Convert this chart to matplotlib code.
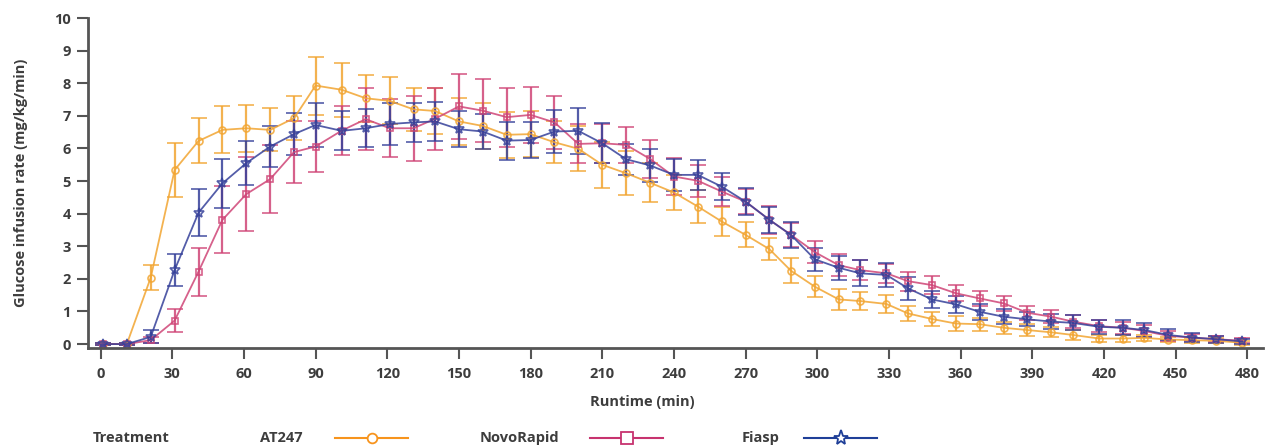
import matplotlib
matplotlib.use("Agg")
import matplotlib.pyplot as plt
from matplotlib.lines import Line2D

# ---- data ----
times = [1, 11, 21, 31, 41, 51, 61, 71, 81, 90,
         101, 111, 121, 131, 140, 150, 160, 170, 180, 190,
         200, 210, 220, 230, 240, 250, 260, 270, 280, 289,
         299, 309, 318, 329, 338, 348, 358, 368, 378, 388,
         398, 407, 418, 428, 437, 447, 457, 467, 478]

at247 = [0, 0, 2.04, 5.34, 6.23, 6.57, 6.62, 6.57, 6.93, 7.93,
         7.80, 7.54, 7.46, 7.20, 7.15, 6.83, 6.69, 6.42, 6.44, 6.19,
         5.99, 5.50, 5.24, 4.95, 4.65, 4.22, 3.76, 3.35, 2.91, 2.25,
         1.76, 1.37, 1.32, 1.23, 0.94, 0.77, 0.63, 0.61, 0.50, 0.43,
         0.36, 0.28, 0.17, 0.17, 0.19, 0.14, 0.12, 0.10, 0.04]
at247_err = [0.03, 0.03, 0.38, 0.84, 0.69, 0.72, 0.72, 0.66, 0.68, 0.89,
             0.83, 0.72, 0.72, 0.66, 0.72, 0.72, 0.70, 0.70, 0.70, 0.64,
             0.69, 0.70, 0.67, 0.60, 0.54, 0.51, 0.45, 0.38, 0.34, 0.38,
             0.32, 0.32, 0.29, 0.28, 0.23, 0.22, 0.23, 0.20, 0.18, 0.19,
             0.15, 0.15, 0.11, 0.10, 0.10, 0.09, 0.08, 0.08, 0.06]

novorapid = [0, 0, 0.12, 0.72, 2.22, 3.81, 4.60, 5.06, 5.89, 6.06,
             6.55, 6.90, 6.62, 6.62, 6.91, 7.29, 7.16, 6.96, 7.03, 6.80,
             6.14, 6.16, 6.11, 5.68, 5.14, 5.01, 4.68, 4.37, 3.81, 3.35,
             2.82, 2.42, 2.27, 2.17, 1.93, 1.81, 1.56, 1.40, 1.25, 0.96,
             0.84, 0.69, 0.55, 0.50, 0.40, 0.25, 0.20, 0.15, 0.10]
novorapid_err = [0.03, 0.03, 0.10, 0.36, 0.73, 1.03, 1.14, 1.05, 0.96, 0.77,
                 0.74, 0.95, 0.89, 1.00, 0.95, 1.00, 0.97, 0.90, 0.87, 0.82,
                 0.60, 0.60, 0.55, 0.59, 0.56, 0.49, 0.45, 0.39, 0.42, 0.37,
                 0.33, 0.33, 0.31, 0.30, 0.29, 0.27, 0.24, 0.24, 0.23, 0.22,
                 0.20, 0.20, 0.18, 0.18, 0.17, 0.15, 0.12, 0.10, 0.08]

fiasp = [0, 0, 0.22, 2.27, 4.03, 4.93, 5.55, 6.06, 6.44, 6.72,
         6.54, 6.62, 6.75, 6.80, 6.83, 6.59, 6.52, 6.24, 6.26, 6.52,
         6.54, 6.16, 5.67, 5.48, 5.19, 5.19, 4.83, 4.37, 3.81, 3.35,
         2.60, 2.34, 2.17, 2.12, 1.71, 1.37, 1.22, 0.99, 0.84, 0.76,
         0.69, 0.65, 0.53, 0.50, 0.43, 0.28, 0.20, 0.15, 0.08]
fiasp_err = [0.03, 0.03, 0.20, 0.50, 0.73, 0.76, 0.67, 0.63, 0.64, 0.68,
             0.60, 0.58, 0.63, 0.59, 0.59, 0.56, 0.55, 0.58, 0.56, 0.65,
             0.71, 0.62, 0.48, 0.50, 0.50, 0.47, 0.41, 0.41, 0.41, 0.39,
             0.35, 0.37, 0.40, 0.37, 0.35, 0.27, 0.27, 0.24, 0.23, 0.22,
             0.22, 0.23, 0.22, 0.23, 0.21, 0.17, 0.13, 0.11, 0.08]

series_names = ["AT247", "NovoRapid", "Fiasp"]
x_ticks = list(range(0, 481, 30))
y_ticks = list(range(0, 11))

# ---- style ----
plot_colors = ["#F2A531", "#CF4577", "#36419A"]
legend_colors = ["#F7941D", "#C7336F", "#1F3F98"]
markers = ["o", "s", "*"]
marker_sizes = [5, 5, 7]
txt = "#3d3d3d"
FONT = "Open Sans"
WEIGHT = "bold"
FS = 10.5

fig = plt.figure(figsize=(12.76, 4.45), dpi=100)
ax = fig.add_axes([0.0687, 0.218, 0.9211, 0.7414])

data = [(at247, at247_err), (novorapid, novorapid_err), (fiasp, fiasp_err)]
for (vals, errs), c, m, ms in zip(data, plot_colors, markers, marker_sizes):
    ax.errorbar(times, vals, yerr=errs, color=c, ecolor=c, elinewidth=1.6,
                capsize=5.5, capthick=1.4, linewidth=1.3, marker=m,
                markersize=ms, markerfacecolor="none", markeredgecolor=c,
                markeredgewidth=1.2, alpha=0.85)

ax.set_xlim(-5.4, 486.6)
ax.set_ylim(-0.12, 10)
ax.set_xticks(x_ticks)
ax.set_yticks(y_ticks)
ax.set_xticklabels([str(t) for t in x_ticks], fontsize=FS, fontweight=WEIGHT,
                   color=txt, family=FONT)
ax.set_yticklabels([str(t) for t in y_ticks], fontsize=FS, fontweight=WEIGHT,
                   color=txt, family=FONT)
ax.tick_params(axis="both", direction="out", length=8, width=1.5, color="#555555")
ax.tick_params(axis="x", pad=6)
ax.tick_params(axis="y", pad=4)
for s in ["top", "right"]:
    ax.spines[s].set_visible(False)
for s in ["left", "bottom"]:
    ax.spines[s].set_color("#555555")
    ax.spines[s].set_linewidth(2)
ax.spines["left"].set_bounds(-0.12, 10)

ax.set_xlabel("Runtime (min)", fontsize=FS, fontweight=WEIGHT, color=txt,
              family=FONT)
ax.xaxis.set_label_coords(0.4716, -0.143)
ax.set_ylabel("Glucose infusion rate (mg/kg/min)", fontsize=FS,
              fontweight=WEIGHT, color=txt, family=FONT, labelpad=19)

# ---- legend row ----
ly = 1 - 438 / 445
W = 1276
fig.text(93 / W, ly, "Treatment", fontsize=FS, fontweight=WEIGHT, color=txt,
         family=FONT, va="center", ha="left")
legend_layout = [(260, 335, 408), (480, 590, 663), (742, 804, 877)]
for name, c, m, ms, (tx, l0, l1) in zip(series_names, legend_colors, markers,
                                         [7, 8, 11], legend_layout):
    fig.text(tx / W, ly, name, fontsize=FS, fontweight=WEIGHT, color=txt,
             family=FONT, va="center", ha="left")
    fig.add_artist(Line2D([l0 / W, l1 / W], [ly, ly], color=c, linewidth=1.5,
                          transform=fig.transFigure))
    fig.add_artist(Line2D([(l0 + l1) / 2 / W], [ly], color=c, marker=m,
                          markersize=ms, markerfacecolor="white",
                          markeredgecolor=c, markeredgewidth=1.3,
                          linestyle="none", transform=fig.transFigure))

fig.savefig("out.png", dpi=100, facecolor="white")
